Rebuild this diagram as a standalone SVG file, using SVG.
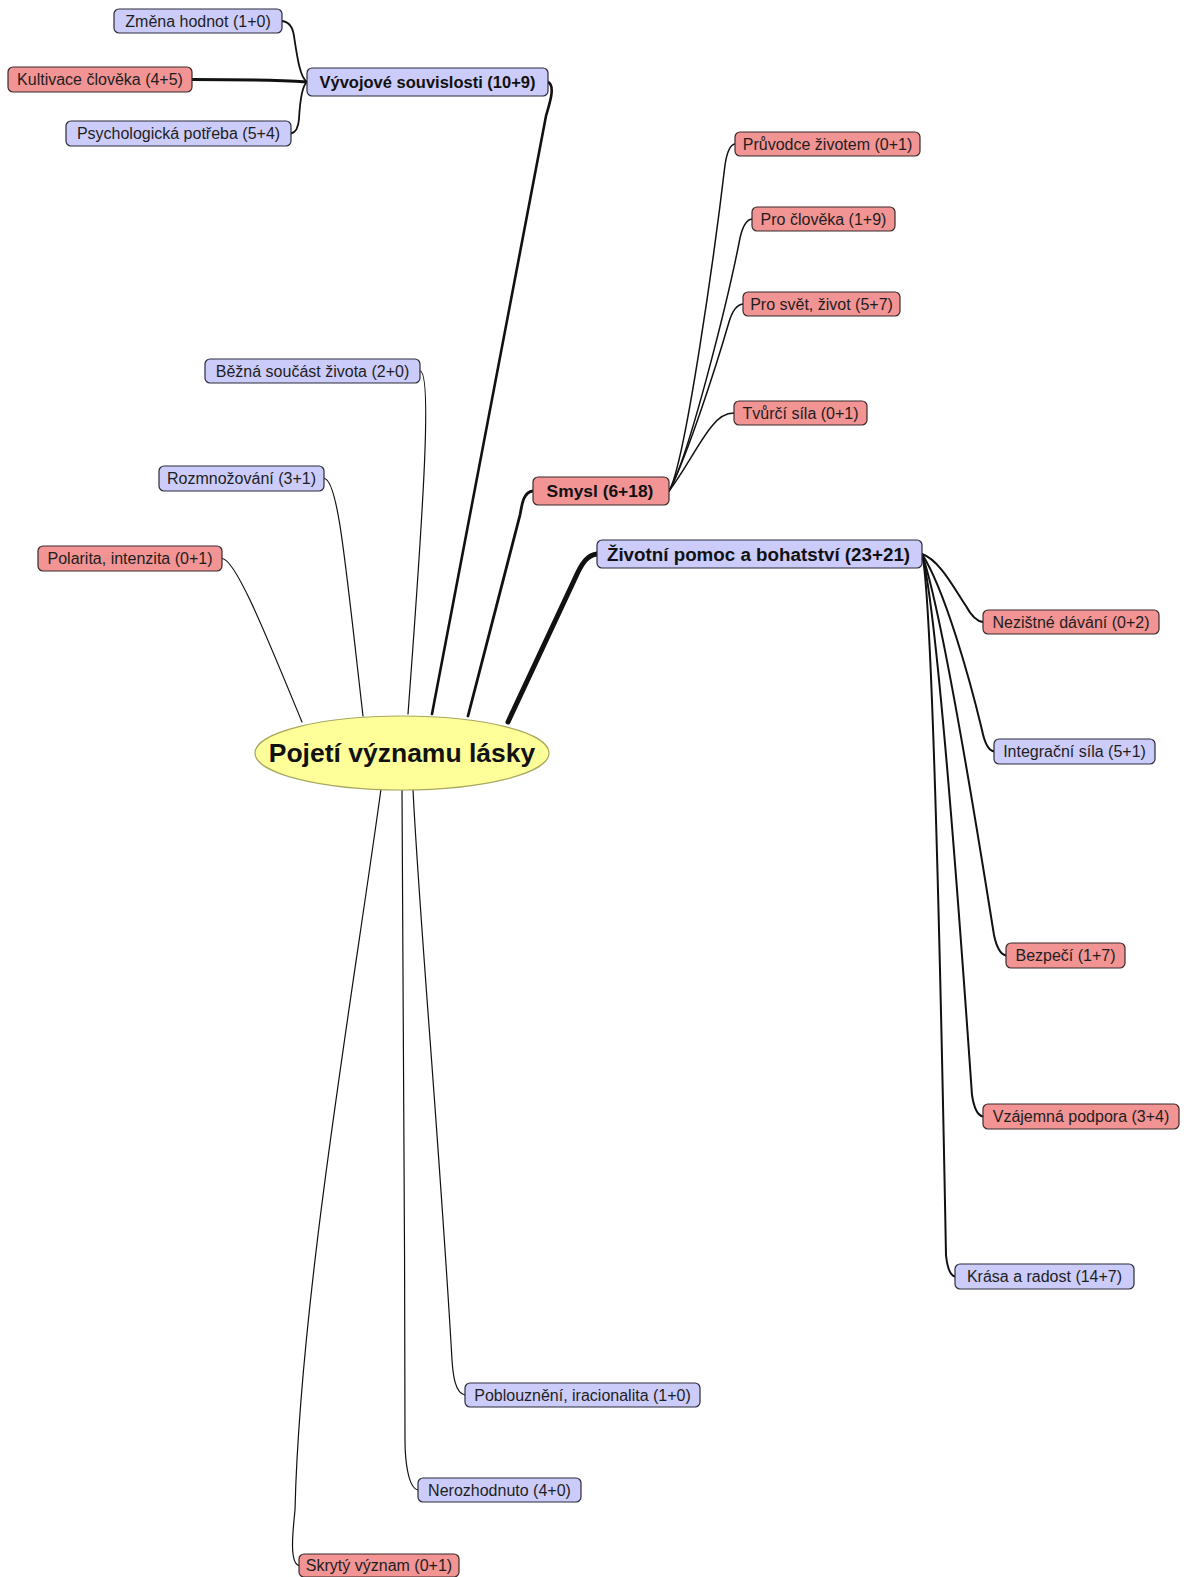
<svg xmlns="http://www.w3.org/2000/svg" width="1190" height="1577" viewBox="0 0 1190 1577">
<style>
.b{fill:#ccccfa;stroke:#2a2a3a;stroke-width:1.2}
.r{fill:#f29494;stroke:#3a2a2a;stroke-width:1.2}
.t{font-family:"Liberation Sans",Arial,sans-serif;font-size:16px;fill:#1e1e1e;text-anchor:middle}
.tb{font-family:"Liberation Sans",Arial,sans-serif;font-size:16.5px;font-weight:bold;fill:#111;text-anchor:middle}
.c{fill:none;stroke:#111;stroke-linecap:round}
</style>
<rect width="1190" height="1577" fill="#fff"/>
<g id="connectors">
<path class="c" stroke-width="1.8" d="M282,21 Q292,22 294,36 C297,56 300,78 307,82"/>
<path class="c" stroke-width="3" d="M192,79.5 C240,79.5 275,80 307,82"/>
<path class="c" stroke-width="1.8" d="M291,133.5 Q298,132 299,119 C300,100 302,86 307,82"/>
<path class="c" stroke-width="2.6" d="M548,82 C556,86 549,105 546,116 L432,714"/>
<path class="c" stroke-width="2.8" d="M533,491 C523,492 522,505 520,515 L468,716"/>
<path class="c" stroke-width="5" d="M597,554 C588,555 583,562 578,572 L508,722"/>
<path class="c" stroke-width="1.2" d="M420,371 C432,372 424,500 408,714"/>
<path class="c" stroke-width="1.2" d="M324,478.5 C338,479 345,560 363,716"/>
<path class="c" stroke-width="1.2" d="M222,558.5 C236,559 268,640 302,722"/>
<path class="c" stroke-width="1.2" d="M299,1565.5 C289,1563 293,1530 295,1510 C300,1300 352,1000 381,789"/>
<path class="c" stroke-width="1.2" d="M418,1490 C408,1488 405,1460 405,1440 C405,1200 402,900 402,789"/>
<path class="c" stroke-width="1.2" d="M465,1395 C455,1393 453,1375 452,1360 C440,1150 418,900 413,789"/>
<path class="c" stroke-width="1.5" d="M669,491 C685,465 715,250 725,165 Q728,145 735,144"/>
<path class="c" stroke-width="1.5" d="M669,491 C688,460 728,300 740,238 Q744,220 752,219"/>
<path class="c" stroke-width="1.5" d="M669,491 C688,455 718,360 729,322 Q734,305 743,304"/>
<path class="c" stroke-width="1.5" d="M669,491 C685,470 700,440 712,426 Q722,413 734,413"/>
<path class="c" stroke-width="2" d="M922,554 C940,560 955,590 966,606 Q974,621 983,622"/>
<path class="c" stroke-width="2" d="M922,554 C945,590 970,680 982,730 Q986,750 994,751.5"/>
<path class="c" stroke-width="2" d="M922,554 C945,620 985,880 994,935 Q998,954 1006,955.5"/>
<path class="c" stroke-width="2" d="M922,554 C940,620 968,1040 972,1095 Q975,1115 983,1116.5"/>
<path class="c" stroke-width="2" d="M922,554 C934,600 944,1150 946,1255 Q948,1275 955,1276.5"/>
</g>
<g id="center"><ellipse cx="402" cy="753" rx="147" ry="37" fill="#ffff99" stroke="#a8a860" stroke-width="1.2"/><text x="402" y="762" font-family="Liberation Sans, Arial, sans-serif" font-size="26.5" font-weight="bold" fill="#111" text-anchor="middle">Pojetí významu lásky</text></g>
<g id="n-zmena"><rect class="b" x="114" y="9" width="168" height="24" rx="5"/><text class="t" x="198" y="26.5">Změna hodnot (1+0)</text></g>
<g id="n-kultivace"><rect class="r" x="8" y="67" width="184" height="25" rx="5"/><text class="t" x="100" y="85">Kultivace člověka (4+5)</text></g>
<g id="n-psych"><rect class="b" x="66" y="121" width="225" height="25" rx="5"/><text class="t" x="178.5" y="139">Psychologická potřeba (5+4)</text></g>
<g id="n-vyvojove"><rect class="b" x="307" y="68" width="241" height="28" rx="5"/><text class="tb" x="427.5" y="88">Vývojové souvislosti (10+9)</text></g>
<g id="n-pruvodce"><rect class="r" x="735" y="132" width="185" height="24" rx="5"/><text class="t" x="827.5" y="149.5">Průvodce životem (0+1)</text></g>
<g id="n-procloveka"><rect class="r" x="752" y="207" width="143" height="24" rx="5"/><text class="t" x="823.5" y="224.5">Pro člověka (1+9)</text></g>
<g id="n-prosvet"><rect class="r" x="743" y="292" width="157" height="24" rx="5"/><text class="t" x="821.5" y="309.5">Pro svět, život (5+7)</text></g>
<g id="n-tvurci"><rect class="r" x="734" y="401" width="133" height="24" rx="5"/><text class="t" x="800.5" y="418.5">Tvůrčí síla (0+1)</text></g>
<g id="n-smysl"><rect class="r" x="533" y="477" width="136" height="28" rx="5"/><text class="tb" x="600" y="497" style="font-size:17.4px">Smysl (6+18)</text></g>
<g id="n-zivotni"><rect class="b" x="597" y="540" width="325" height="28" rx="5"/><text class="tb" x="758.5" y="560.5" style="font-size:18.8px">Životní pomoc a bohatství (23+21)</text></g>
<g id="n-nezistne"><rect class="r" x="983" y="610" width="176" height="24" rx="5"/><text class="t" x="1071" y="627.5">Nezištné dávání (0+2)</text></g>
<g id="n-integracni"><rect class="b" x="994" y="739" width="161" height="25" rx="5"/><text class="t" x="1074.5" y="757">Integrační síla (5+1)</text></g>
<g id="n-bezpeci"><rect class="r" x="1006" y="943" width="119" height="25" rx="5"/><text class="t" x="1065.5" y="961">Bezpečí (1+7)</text></g>
<g id="n-vzajemna"><rect class="r" x="983" y="1104" width="196" height="25" rx="5"/><text class="t" x="1081" y="1122">Vzájemná podpora (3+4)</text></g>
<g id="n-krasa"><rect class="b" x="955" y="1264" width="179" height="25" rx="5"/><text class="t" x="1044.5" y="1282">Krása a radost (14+7)</text></g>
<g id="n-poblouzneni"><rect class="b" x="465" y="1383" width="235" height="24" rx="5"/><text class="t" x="582.5" y="1400.5">Poblouznění, iracionalita (1+0)</text></g>
<g id="n-nerozhodnuto"><rect class="b" x="418" y="1478" width="163" height="24" rx="5"/><text class="t" x="499.5" y="1495.5">Nerozhodnuto (4+0)</text></g>
<g id="n-skryty"><rect class="r" x="299" y="1554" width="160" height="23" rx="5"/><text class="t" x="379" y="1571">Skrytý význam (0+1)</text></g>
<g id="n-bezna"><rect class="b" x="205" y="359" width="215" height="24" rx="5"/><text class="t" x="312.5" y="376.5">Běžná součást života (2+0)</text></g>
<g id="n-rozmnozovani"><rect class="b" x="159" y="466" width="165" height="25" rx="5"/><text class="t" x="241.5" y="484">Rozmnožování (3+1)</text></g>
<g id="n-polarita"><rect class="r" x="38" y="546" width="184" height="25" rx="5"/><text class="t" x="130" y="564">Polarita, intenzita (0+1)</text></g>
</svg>
